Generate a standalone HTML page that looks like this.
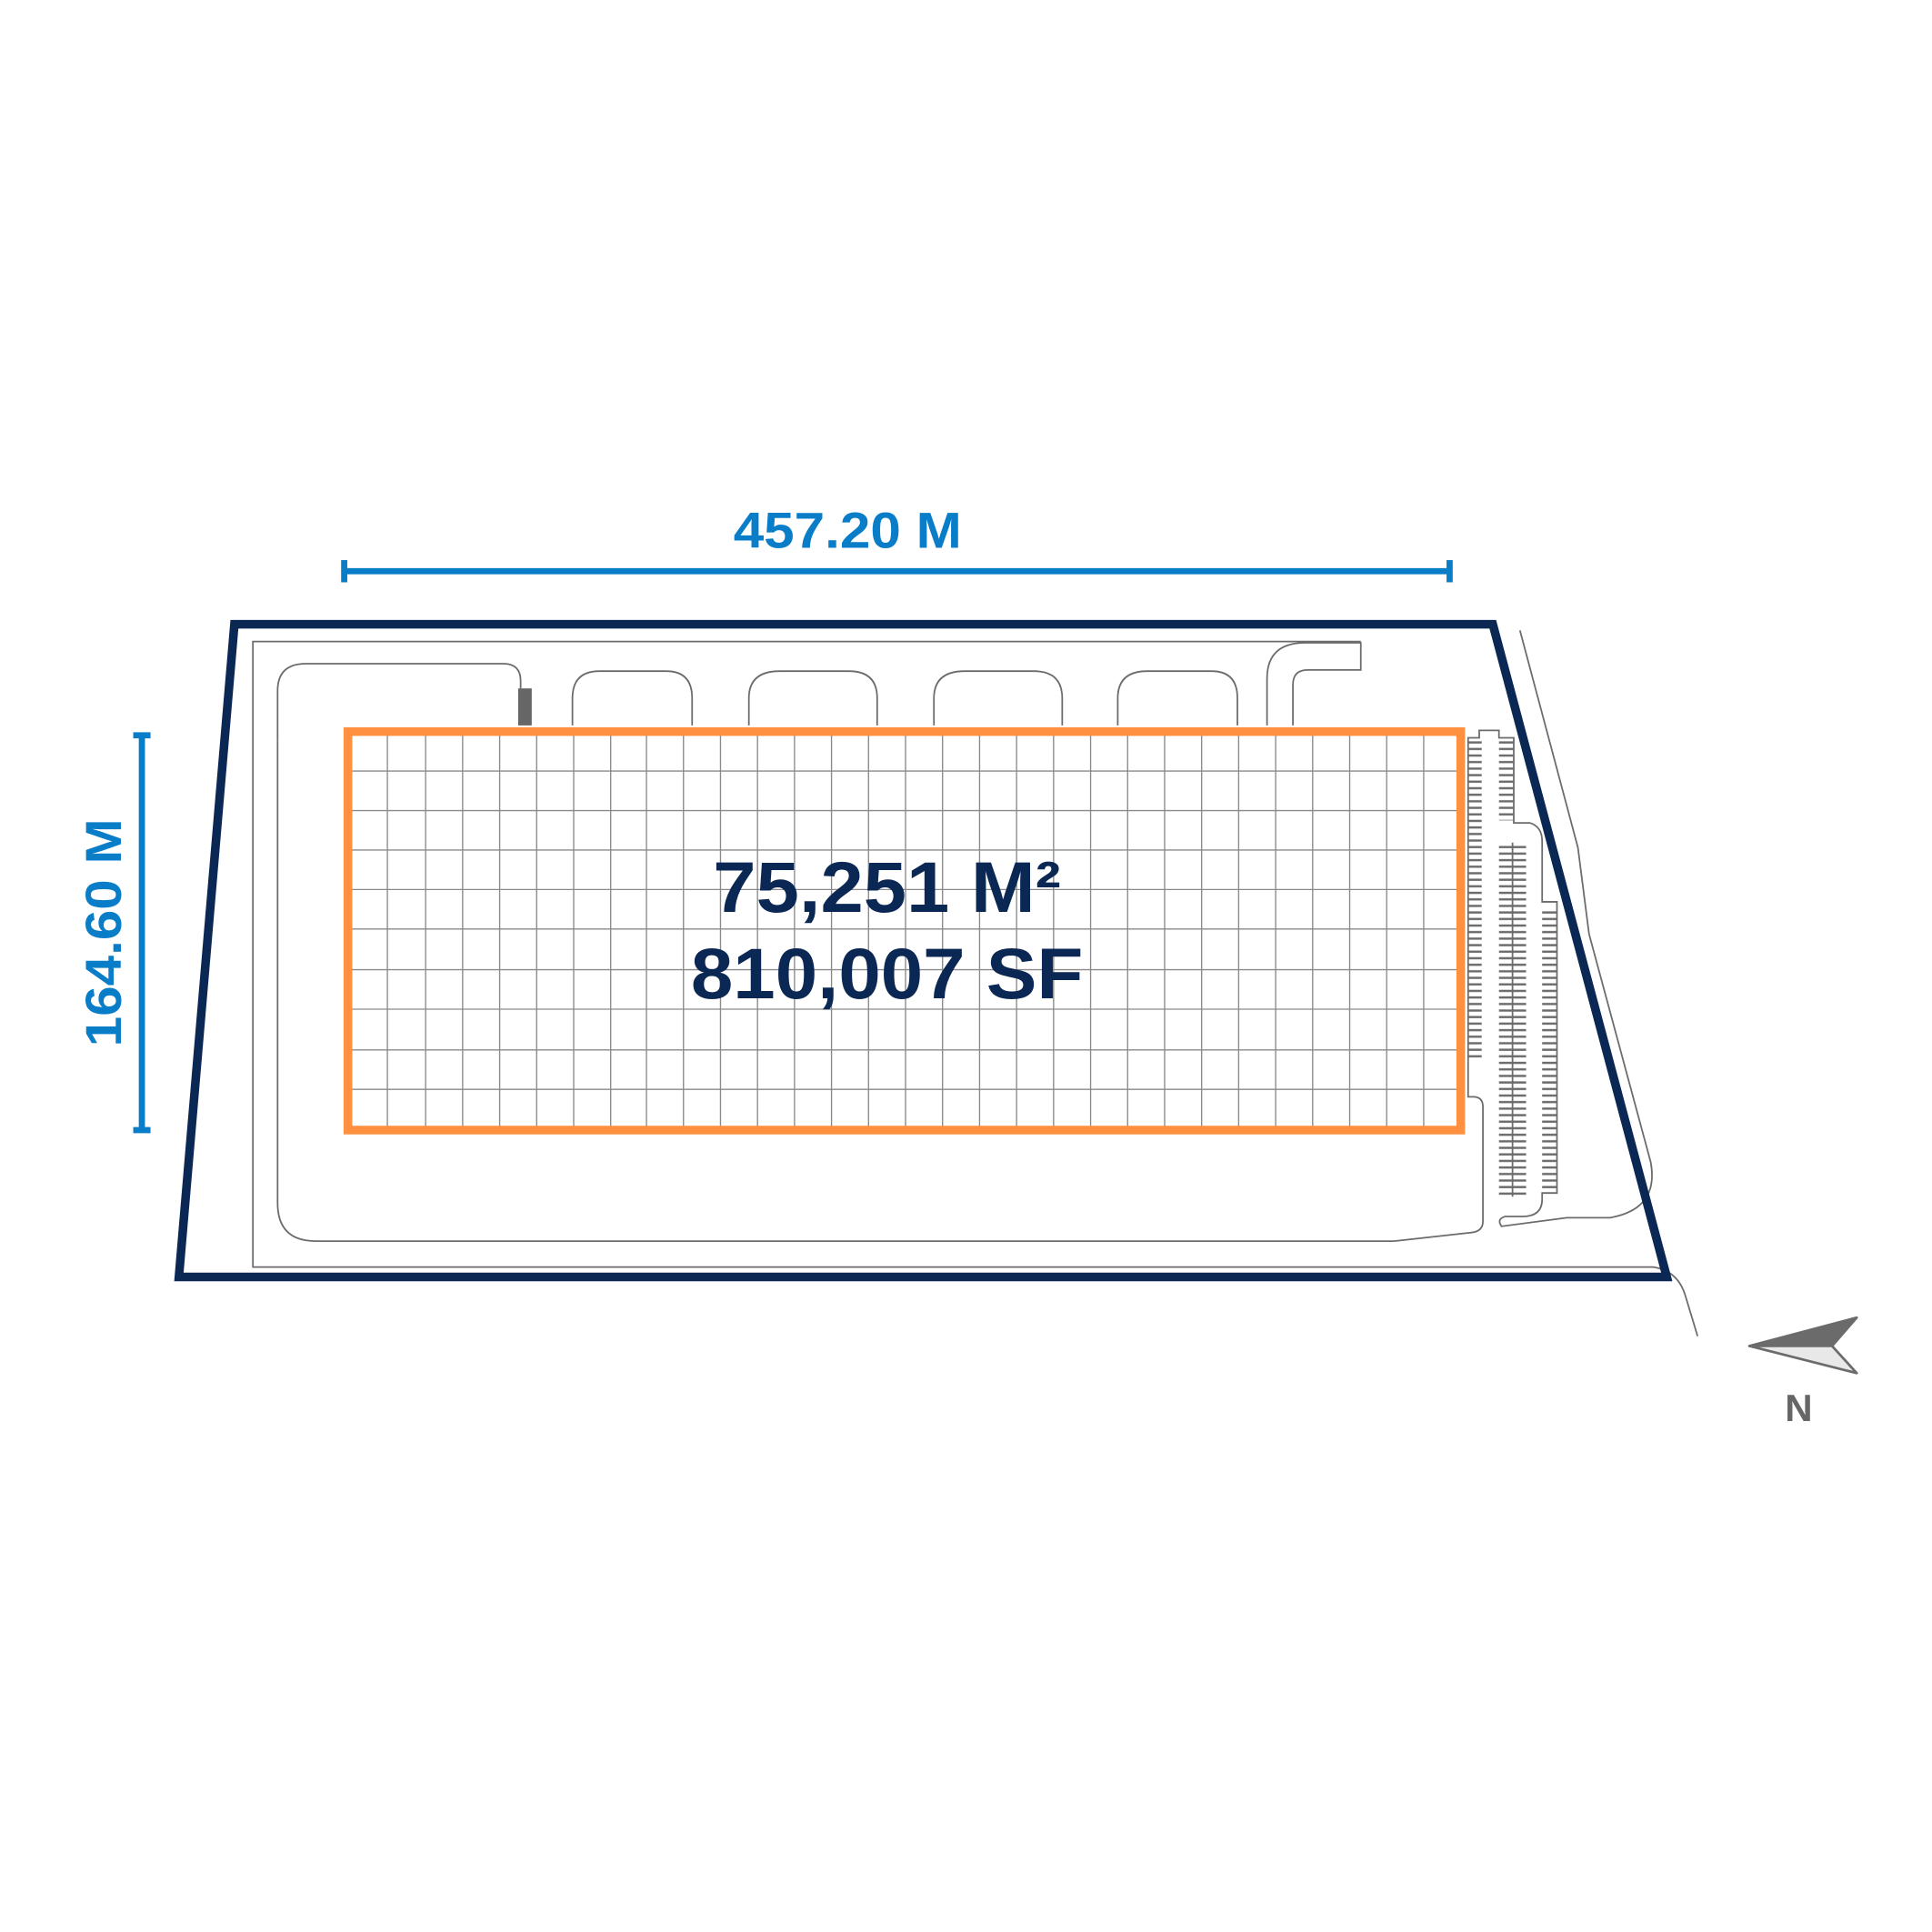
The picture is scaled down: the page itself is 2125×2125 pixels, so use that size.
<!DOCTYPE html>
<html><head><meta charset="utf-8"><style>
html,body{margin:0;padding:0;background:#fff;}
svg{display:block;}
</style></head><body>
<svg width="2125" height="2125" viewBox="0 0 1566 1566" xmlns="http://www.w3.org/2000/svg">
<defs>
<pattern id="tk" width="20" height="5.3" patternUnits="userSpaceOnUse" y="0">
<rect x="0" y="2" width="20" height="1.8" fill="#6b6b6b"/>
</pattern>
</defs>
<rect width="1566" height="1566" fill="#fff"/>
<g font-family="Liberation Sans, sans-serif" font-weight="bold">
<text x="687" y="444" font-size="41" fill="#0a7dc8" text-anchor="middle" textLength="185" lengthAdjust="spacingAndGlyphs">457.20 M</text>
<text transform="translate(98,756) rotate(-90)" font-size="41" fill="#0a7dc8" text-anchor="middle" textLength="185" lengthAdjust="spacingAndGlyphs">164.60 M</text>
</g>
<g stroke="#0a7dc8" stroke-width="5" fill="none">
<line x1="279" y1="463" x2="1175" y2="463"/>
<line x1="279" y1="454" x2="279" y2="472"/>
<line x1="1175" y1="454" x2="1175" y2="472"/>
<line x1="115" y1="596" x2="115" y2="916"/>
<line x1="108" y1="596" x2="122" y2="596"/>
<line x1="108" y1="916" x2="122" y2="916"/>
</g>
<g stroke="#6b6b6b" stroke-width="1.3" fill="none">
<path d="M1103,520 H205 V1027 H1340 Q1360,1030 1366,1050 L1376,1083"/>
<path d="M225,600 V560 Q225,538 248,538 H408 Q422,538 422,552 V558"/>
<path d="M464,588 V566 Q464,544 486,544 H540 Q561,544 561,566 V588"/>
<path d="M607,588 V566 Q607,544 632,544 H688 Q711,544 711,566 V588"/>
<path d="M757,588 V566 Q757,544 782,544 H838 Q861,544 861,566 V588"/>
<path d="M906,588 V566 Q906,544 930,544 H982 Q1003,544 1003,566 V588"/>
<path d="M1027,588 V550 Q1027,521 1058,521 H1103 V543 H1060 Q1048,543 1048,555 V588"/>
<path d="M225,600 V975 Q225,1006 256,1006 H1130 L1193,999 Q1202,998 1202,990 V897 Q1202,889 1194,889 H1190 V598 H1199 V592 H1215 V598 H1227 V667 H1240 Q1250,670 1250,682 V731 H1262 V967 H1250 V972 Q1250,986 1234,986 H1220 Q1214,988 1216,992 L1217,994 L1270,987 H1305 Q1345,980 1338,942 L1288,757 L1279,687 L1232,511"/>
<line x1="1226" y1="683" x2="1226" y2="970"/>
</g>
<rect x="420" y="558" width="11" height="30" fill="#666"/>
<rect x="1190" y="600" width="11" height="258" fill="url(#tk)"/>
<rect x="1215" y="600" width="12" height="65" fill="url(#tk)"/>
<rect x="1215" y="683" width="22" height="288" fill="url(#tk)"/>
<rect x="1250" y="737" width="12" height="228" fill="url(#tk)"/>
<polygon points="190,506 1210,506 1351,1035 145,1035" fill="none" stroke="#0b2855" stroke-width="7"/>
<g stroke="#8a8a8a" stroke-width="1">
<path d="M314,593V916M345,593V916M375,593V916M405,593V916M435,593V916M465,593V916M495,593V916M524,593V916M554,593V916M584,593V916M614,593V916M644,593V916M674,593V916M704,593V916M734,593V916M764,593V916M794,593V916M824,593V916M854,593V916M884,593V916M914,593V916M944,593V916M974,593V916M1004,593V916M1034,593V916M1064,593V916M1094,593V916M1124,593V916M1154,593V916"/>
<path d="M282,625H1184M282,657H1184M282,689H1184M282,721H1184M282,753H1184M282,786H1184M282,818H1184M282,851H1184M282,883H1184"/>
</g>
<rect x="282" y="593" width="902" height="323" fill="none" stroke="#ff9040" stroke-width="7"/>
<g font-family="Liberation Sans, sans-serif" font-weight="bold" fill="#0b2855" text-anchor="middle">
<text x="719" y="739" font-size="58" textLength="282" lengthAdjust="spacingAndGlyphs">75,251 M²</text>
<text x="719" y="809" font-size="58" textLength="318" lengthAdjust="spacingAndGlyphs">810,007 SF</text>
</g>
<polygon points="1418,1091 1505,1068 1485,1091" fill="#6b6b6b" stroke="#6b6b6b" stroke-width="2" stroke-linejoin="round"/>
<polygon points="1418,1091 1485,1091 1505,1113" fill="#e8e8e8" stroke="#6b6b6b" stroke-width="2" stroke-linejoin="round"/>
<text x="1458" y="1152" font-family="Liberation Sans, sans-serif" font-weight="bold" font-size="31" fill="#666" text-anchor="middle">N</text>
</svg>
</body></html>
